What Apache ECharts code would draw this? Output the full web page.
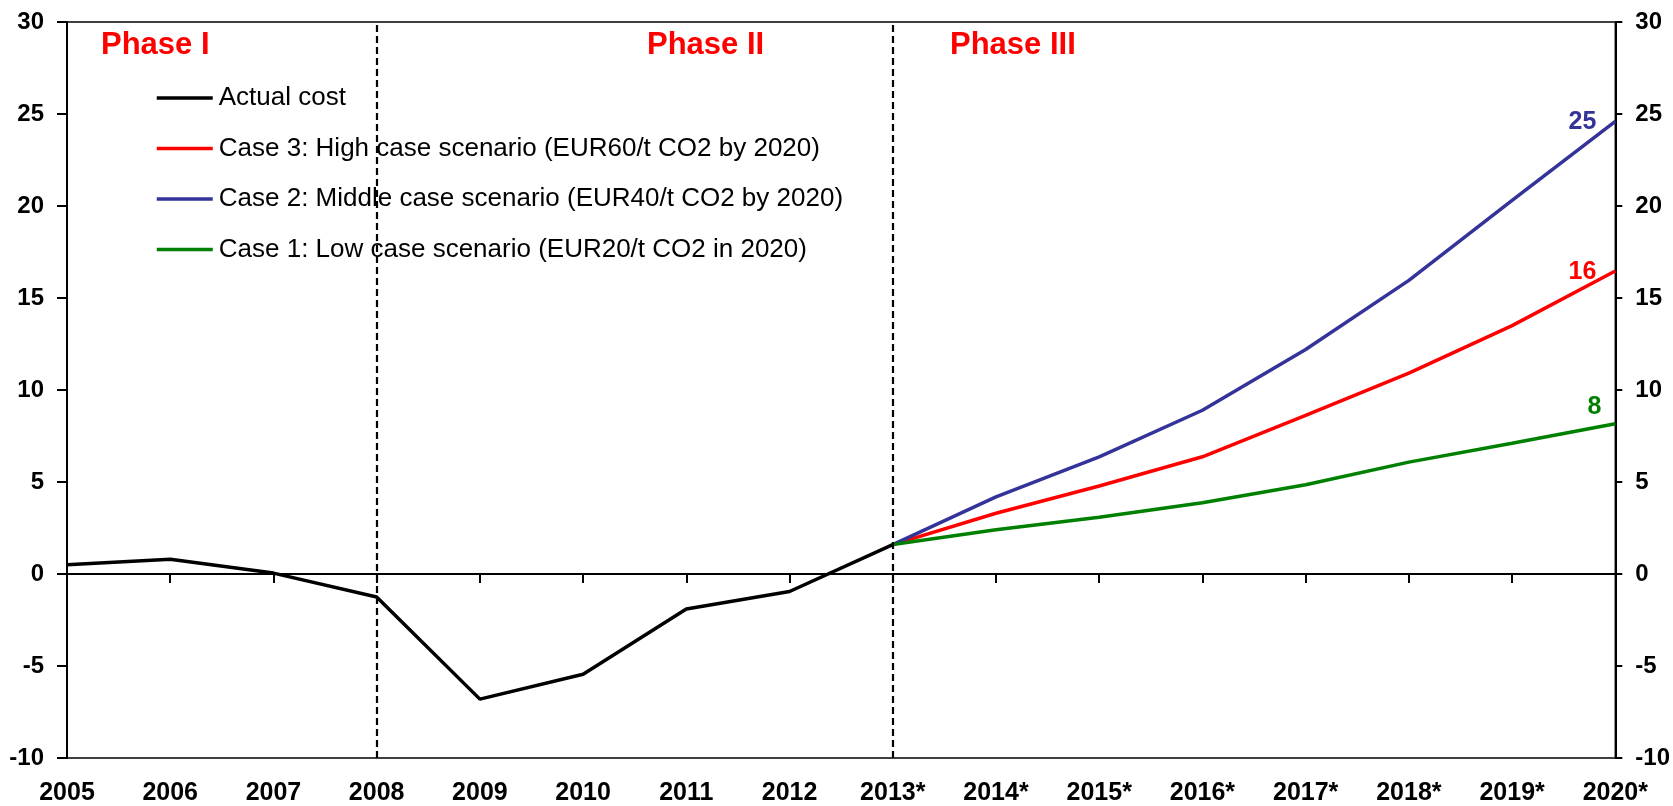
<!DOCTYPE html>
<html>
<head>
<meta charset="utf-8">
<script src="https://cdn.jsdelivr.net/npm/echarts@6/dist/echarts.min.js"></script>
<style>
  html, body { margin: 0; padding: 0; background: #fff; }
  #chart { width: 1673px; height: 806px; }
</style>
</head>
<body>
<div id="chart"></div>
<script>
// categories
var years = ['2005', '2006', '2007', '2008', '2009', '2010', '2011', '2012',
  '2013*', '2014*', '2015*', '2016*', '2017*', '2018*', '2019*', '2020*'];

// actual cost, 2005 - 2013
var actualCost = [0.5, 0.8, 0.05, -1.25, -6.8, -5.45, -1.9, -0.95, 1.6,
  null, null, null, null, null, null, null];

// scenarios, 2013* - 2020*
var case3High = [null, null, null, null, null, null, null, null,
  1.6, 3.3, 4.78, 6.37, 8.62, 10.92, 13.5, 16.47];
var case2Mid = [null, null, null, null, null, null, null, null,
  1.6, 4.19, 6.37, 8.9, 12.2, 15.96, 20.3, 24.6];
var case1Low = [null, null, null, null, null, null, null, null,
  1.6, 2.4, 3.09, 3.87, 4.85, 6.08, 7.11, 8.17];

// phase boundaries
var phaseBreaks = ['2008', '2013*'];
var yTicks = { min: -10, max: 30, step: 5 };

var FONT = "'Liberation Sans', Arial, sans-serif";

// rounded value written just left of the line end
function endLabel(color, offset) {
  return {
    show: true,
    distance: 0,
    align: 'right',
    verticalAlign: 'middle',
    offset: offset,
    color: color,
    fontFamily: FONT,
    fontWeight: 'bold',
    fontSize: 25,
    formatter: function (p) { return Math.round(p.value); }
  };
}

var chart = echarts.init(document.getElementById('chart'));

var yAxisBase = function (pos, tickLen, margin) {
  return {
    type: 'value',
    position: pos,
    min: yTicks.min,
    max: yTicks.max,
    interval: yTicks.step,
    axisLine: { show: true, lineStyle: { color: '#000', width: 2 } },
    axisTick: { show: true, inside: false, length: tickLen, lineStyle: { color: '#000', width: 2 } },
    axisLabel: { margin: margin, color: '#000', fontFamily: FONT, fontWeight: 'bold', fontSize: 24 },
    splitLine: { show: false }
  };
};

chart.setOption({
  animation: false,
  backgroundColor: '#fff',
  grid: {
    left: 67, right: 55, top: 22, bottom: 48,
    show: true, borderColor: '#000', borderWidth: 1.5, backgroundColor: 'transparent'
  },
  legend: {
    orient: 'vertical',
    left: 155,
    top: 85,
    padding: 0,
    itemWidth: 56,
    itemHeight: 26,
    itemGap: 24.5,
    itemStyle: { opacity: 0 },
    lineStyle: { width: 3.5 },
    textStyle: { color: '#000', fontFamily: FONT, fontSize: 26, lineHeight: 26, padding: [0, 0, 0, 1] },
    data: ['Actual cost',
      'Case 3: High case scenario (EUR60/t CO2 by 2020)',
      'Case 2: Middle case scenario (EUR40/t CO2 by 2020)',
      'Case 1: Low case scenario (EUR20/t CO2 in 2020)']
  },
  graphic: [
    { type: 'text', left: 101, top: 30, style: { text: 'Phase I', fill: '#ff0000', font: 'bold 31px ' + FONT } },
    { type: 'text', left: 647, top: 30, style: { text: 'Phase II', fill: '#ff0000', font: 'bold 31px ' + FONT } },
    { type: 'text', left: 950, top: 30, style: { text: 'Phase III', fill: '#ff0000', font: 'bold 31px ' + FONT } }
  ],
  xAxis: [
    { // zero line with ticks
      type: 'category',
      data: years,
      boundaryGap: false,
      position: 'bottom',
      axisLine: { show: true, onZero: true, lineStyle: { color: '#000', width: 2 } },
      axisTick: { show: true, inside: false, length: 9, lineStyle: { color: '#000', width: 2 } },
      axisLabel: { show: false },
      splitLine: { show: false }
    },
    { // labels along the bottom
      type: 'category',
      data: years,
      boundaryGap: false,
      position: 'bottom',
      axisLine: { show: false, onZero: false },
      axisTick: { show: false },
      axisLabel: { margin: 23, interval: 0, color: '#000', fontFamily: FONT, fontWeight: 'bold', fontSize: 25 },
      splitLine: { show: false }
    }
  ],
  yAxis: [
    yAxisBase('left', 10, 23),
    yAxisBase('right', 7, 20)
  ],
  series: [
    {
      name: 'Actual cost',
      type: 'line',
      data: actualCost,
      symbol: 'none',
      lineStyle: { color: '#000', width: 3.5 },
      itemStyle: { color: '#000' },
      z: 3,
      markLine: {
        silent: true,
        symbol: ['none', 'none'],
        label: { show: false },
        lineStyle: { color: '#000', type: [7, 4], width: 2.2 },
        data: phaseBreaks.map(function (c) { return { xAxis: c }; })
      }
    },
    {
      name: 'Case 3: High case scenario (EUR60/t CO2 by 2020)',
      type: 'line',
      data: case3High,
      symbol: 'none',
      lineStyle: { color: '#ff0000', width: 3.5 },
      itemStyle: { color: '#ff0000' },
      endLabel: endLabel('#ff0000', [-19, 1])
    },
    {
      name: 'Case 2: Middle case scenario (EUR40/t CO2 by 2020)',
      type: 'line',
      data: case2Mid,
      symbol: 'none',
      lineStyle: { color: '#333399', width: 3.5 },
      itemStyle: { color: '#333399' },
      endLabel: endLabel('#333399', [-19, 1])
    },
    {
      name: 'Case 1: Low case scenario (EUR20/t CO2 in 2020)',
      type: 'line',
      data: case1Low,
      symbol: 'none',
      lineStyle: { color: '#008000', width: 3.5 },
      itemStyle: { color: '#008000' },
      endLabel: endLabel('#008000', [-14, -17])
    }
  ]
});
</script>
</body>
</html>
